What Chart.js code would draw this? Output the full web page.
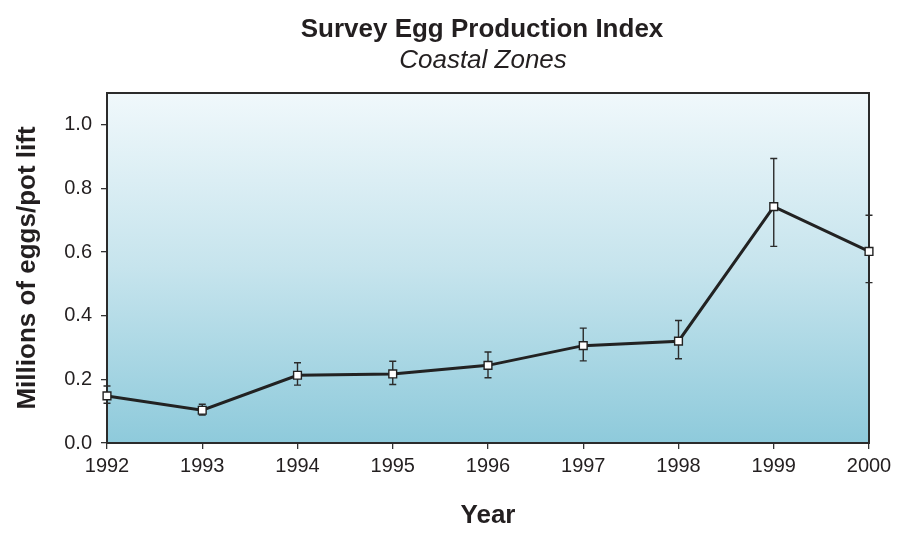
<!DOCTYPE html>
<html>
<head>
<meta charset="utf-8">
<title>Survey Egg Production Index</title>
<script src="https://cdn.jsdelivr.net/npm/chart.js@4.4.1/dist/chart.umd.min.js"></script>
<style>
    html, body { margin: 0; padding: 0; background: #fff; }
    .graph-container { width: 898px; height: 540px; }
</style>
</head>
<body>
<div class="graph-container">
    <canvas id="eggChart"></canvas>
</div>
<script>
// Survey egg production index, coastal zones (millions of eggs per pot lift)
const years = [1992, 1993, 1994, 1995, 1996, 1997, 1998, 1999, 2000];
const eggIndex = [0.148, 0.103, 0.213, 0.217, 0.244, 0.306, 0.320, 0.743, 0.602];
const upperBound = [0.179, 0.122, 0.252, 0.257, 0.286, 0.361, 0.385, 0.894, 0.716];
const lowerBound = [0.125, 0.088, 0.182, 0.184, 0.205, 0.258, 0.265, 0.618, 0.504];
const yTicks = [0, 0.2, 0.4, 0.6, 0.8, 1.0];

const FONT = "'Liberation Sans', Arial, Helvetica, sans-serif";
const INK = '#231f20';

// gradient fill behind the plot area
const plotBackground = {
    id: 'plotBackground',
    beforeDraw(chart) {
        const { ctx, chartArea: a } = chart;
        const grad = ctx.createLinearGradient(0, a.top, 0, a.bottom);
        grad.addColorStop(0, '#f0f8fb');
        grad.addColorStop(0.5, '#c6e4ed');
        grad.addColorStop(1, '#8ecadb');
        ctx.save();
        ctx.fillStyle = grad;
        ctx.fillRect(a.left, a.top, a.right - a.left, a.bottom - a.top);
        ctx.restore();
    }
};

// box round the plot, then the error bars under the line
const frameAndErrors = {
    id: 'frameAndErrors',
    beforeDatasetsDraw(chart) {
        const { ctx, chartArea: a, scales: { x, y } } = chart;
        ctx.save();
        ctx.strokeStyle = '#2b2b2b';
        ctx.lineWidth = 2;
        ctx.strokeRect(a.left, a.top, a.right - a.left, a.bottom - a.top);

        ctx.strokeStyle = '#2b2b2b';
        ctx.lineWidth = 1.4;
        const cap = 3.5;
        years.forEach((yr, i) => {
            const px = x.getPixelForValue(yr);
            const top = y.getPixelForValue(upperBound[i]);
            const bot = y.getPixelForValue(lowerBound[i]);
            ctx.beginPath();
            ctx.moveTo(px, top);
            ctx.lineTo(px, bot);
            ctx.moveTo(px - cap, top);
            ctx.lineTo(px + cap, top);
            ctx.moveTo(px - cap, bot);
            ctx.lineTo(px + cap, bot);
            ctx.stroke();
        });
        ctx.restore();
    }
};

// title and subtitle, centred over the plot
const titles = {
    id: 'titles',
    afterDraw(chart) {
        const { ctx } = chart;
        ctx.save();
        ctx.fillStyle = INK;
        ctx.textAlign = 'center';
        ctx.textBaseline = 'alphabetic';
        ctx.font = 'bold 26px ' + FONT;
        ctx.fillText('Survey Egg Production Index', 482, 37);
        ctx.font = 'italic 26px ' + FONT;
        ctx.fillText('Coastal Zones', 483, 68);
        ctx.restore();
    }
};

const ctx = document.getElementById('eggChart').getContext('2d');
new Chart(ctx, {
    type: 'line',
    data: {
        datasets: [{
            label: 'Egg production index',
            data: years.map((yr, i) => ({ x: yr, y: eggIndex[i] })),
            borderColor: '#222',
            borderWidth: 3,
            pointStyle: 'rect',
            pointRadius: 5.5,
            pointBackgroundColor: '#fff',
            pointBorderColor: '#222',
            pointBorderWidth: 1.4,
            tension: 0,
            clip: false,
        }],
    },
    plugins: [plotBackground, frameAndErrors, titles],
    options: {
        responsive: true,
        maintainAspectRatio: false,
        animation: false,
        layout: {
            padding: { top: 93, right: 29, left: 0, bottom: 0 },
        },
        plugins: {
            legend: { display: false },
            tooltip: { enabled: false },
        },
        scales: {
            x: {
                type: 'linear',
                min: 1992,
                max: 2000,
                afterFit: scale => { scale.height = 97; },
                ticks: {
                    stepSize: 1,
                    padding: 5,
                    color: INK,
                    font: { family: FONT, size: 20 },
                    callback: v => String(v),
                },
                grid: {
                    drawOnChartArea: false,
                    tickLength: 6,
                    color: '#333',
                    lineWidth: 1.3,
                },
                border: { color: '#2b2b2b', width: 2 },
                title: {
                    display: true,
                    text: 'Year',
                    color: INK,
                    font: { family: FONT, size: 26, weight: 'bold' },
                    padding: { top: 0, bottom: 9 },
                },
            },
            y: {
                min: 0,
                max: 1.1,
                afterFit: scale => { scale.width = 107; },
                afterBuildTicks: scale => {
                    scale.ticks = yTicks.map(v => ({ value: v }));
                },
                ticks: {
                    padding: 9,
                    color: INK,
                    font: { family: FONT, size: 20 },
                    callback: v => v.toFixed(1),
                },
                grid: {
                    drawOnChartArea: false,
                    tickLength: 6,
                    color: '#333',
                    lineWidth: 1.3,
                },
                border: { color: '#2b2b2b', width: 2 },
                title: {
                    display: true,
                    text: 'Millions of eggs/pot lift',
                    color: INK,
                    font: { family: FONT, size: 26, weight: 'bold' },
                    padding: { top: 12, bottom: 0 },
                },
            },
        },
    },
});
</script>
</body>
</html>
